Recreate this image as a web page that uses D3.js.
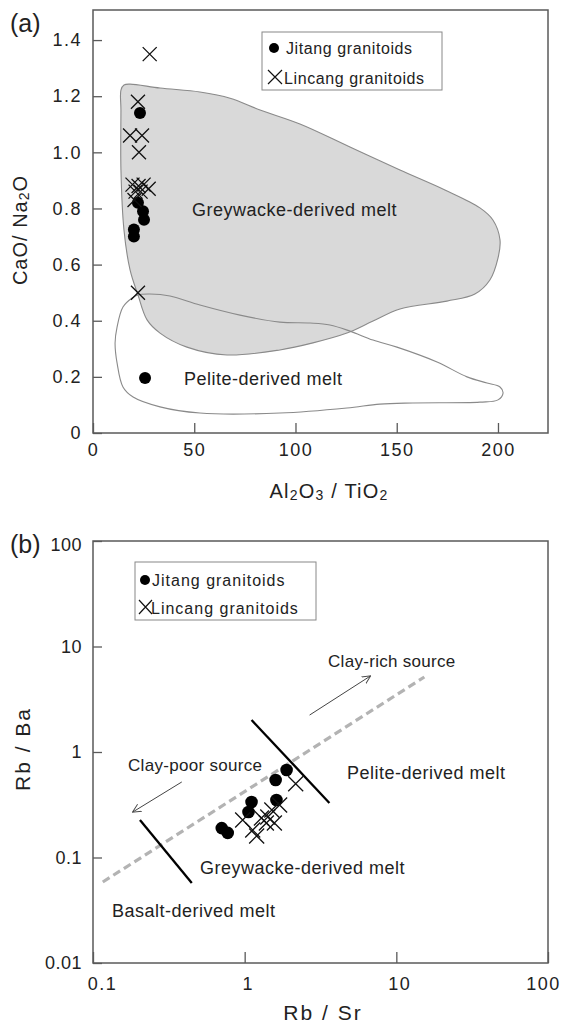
<!DOCTYPE html>
<html><head><meta charset="utf-8">
<script src="https://cdn.jsdelivr.net/npm/d3@7"></script>
<style>
html,body{margin:0;padding:0;background:#fff;}
svg{display:block;font-family:"Liberation Sans",Arial,sans-serif;}
</style></head><body>
<script>
// ---------- Panel (a) data ----------
const jitangA = [[23.2,1.14],[22.2,0.82],[24.7,0.79],[25.2,0.76],[20.2,0.725],[20.2,0.70],[25.7,0.196]];
const lincangA = [[28,1.35],[22.2,1.18],[18.3,1.06],[24.2,1.06],[22.7,1.0],[19.5,0.885],[22.5,0.88],[25,0.885],[27.5,0.87],[21,0.86],[23.5,0.86],[20.5,0.83],[22.2,0.5]];
const greywackeA = [[13.8,1.222],[15.3,1.240],[18.3,1.243],[33.1,1.229],[52.8,1.215],[67.7,1.193],[82.5,1.151],[102.2,1.101],[126.9,1.019],[151.6,0.937],[173.8,0.866],[191.1,0.802],[197.5,0.759],[201,0.688],[200,0.623],[196,0.545],[188.6,0.495],[174.8,0.470],[151.6,0.442],[138.3,0.399],[125.4,0.356],[108.6,0.321],[92.3,0.296],[66.2,0.278],[46.4,0.306],[33.1,0.356],[26.7,0.403],[22.2,0.492],[18.3,0.581],[15.3,0.723],[13.8,0.937],[13.8,1.151]];
const peliteA = [[22.2,0.492],[28.1,0.495],[38.0,0.488],[52.8,0.456],[72.6,0.420],[92.3,0.395],[107.2,0.392],[117.0,0.385],[126.9,0.363],[138.3,0.331],[150.1,0.306],[169.9,0.253],[184.7,0.200],[194.6,0.178],[201,0.164],[202.5,0.142],[200,0.118],[191.1,0.110],[158.0,0.107],[141.7,0.103],[125.4,0.089],[92.3,0.071],[52.8,0.071],[33.1,0.093],[19.8,0.128],[14.8,0.164],[11.9,0.249],[10.9,0.321],[11.9,0.378],[14.8,0.449],[19.3,0.481]];
const xTicksA = [0,50,100,150,200];
const xTickLabelsA = ["0","50","100","150","200"];
const yTicksA = [0,0.2,0.4,0.6,0.8,1.0,1.2,1.4];
const yTickLabelsA = ["0","0.2","0.4","0.6","0.8","1.0","1.2","1.4"];

// ---------- Panel (b) data ----------
const jitangB = [[1.89,0.675],[1.60,0.543],[1.62,0.351],[1.11,0.336],[1.06,0.27],[0.706,0.19],[0.773,0.171]];
const lincangB = [[2.17,0.5],[1.70,0.315],[0.97,0.227],[1.13,0.182],[1.29,0.237],[1.42,0.242],[1.57,0.212],[1.51,0.282],[1.20,0.16],[1.39,0.212]];
const clayLineB = [[0.116,0.0586],[15.3,5.14]];
const pelitePartB = [[1.11,2.01],[3.62,0.329]];
const basaltPartB = [[0.204,0.227],[0.448,0.0573]];
const arrowRichB = [[2.68,2.24],[6.74,5.25]];
const arrowPoorB = [[0.385,0.52],[0.183,0.27]];
const xTicksB = [0.1,1,10,100];
const xTickLabelsB = ["0.1","1","10","100"];
const yTicksB = [0.01,0.1,1,10,100];
const yTickLabelsB = ["0.01","0.1","1","10","100"];

const W = 563, H = 1027;
const ink = "#222", frameC = "#5a5a5a";
const svg = d3.select("body").append("svg").attr("width",W).attr("height",H);

const defs = svg.append("defs");
defs.append("marker").attr("id","arr").attr("viewBox","0 0 10 10").attr("refX",9).attr("refY",5)
  .attr("markerWidth",9).attr("markerHeight",9).attr("markerUnits","userSpaceOnUse").attr("orient","auto")
  .append("path").attr("d","M0,0.5 L9.5,5 L0,9.5").attr("fill","none").attr("stroke","#444").attr("stroke-width",1);

function styleAxis(g, fs, ls){
  g.select(".domain").remove();
  g.selectAll(".tick line").attr("stroke",frameC).attr("stroke-width",1.3);
  g.selectAll(".tick text").attr("fill",ink).attr("font-size",fs).attr("letter-spacing",ls)
    .attr("font-family","Liberation Sans, Arial, sans-serif");
}
function crosses(g, data, x, y, s){
  g.selectAll(null).data(data).enter().append("path")
    .attr("d", d => { const cx=x(d[0]), cy=y(d[1]); return `M${cx-s},${cy-s}L${cx+s},${cy+s}M${cx-s},${cy+s}L${cx+s},${cy-s}`; })
    .attr("stroke","#111").attr("stroke-width",1.3).attr("fill","none");
}
function dots(g, data, x, y, r){
  g.selectAll(null).data(data).enter().append("circle")
    .attr("cx",d=>x(d[0])).attr("cy",d=>y(d[1])).attr("r",r).attr("fill","#000");
}
function txt(x,y,s,fs,ls,anchor){
  return svg.append("text").attr("x",x).attr("y",y).text(s).attr("font-size",fs)
    .attr("letter-spacing",ls||0).attr("fill",ink).attr("text-anchor",anchor||"start");
}

// =============== Panel (a) ===============
const xA = d3.scaleLinear().domain([0,225]).range([93,548.6]);
const yA = d3.scaleLinear().domain([0,1.5]).range([433,12]);
const gA = svg.append("g");
const lineA = d3.line().x(d=>xA(d[0])).y(d=>yA(d[1])).curve(d3.curveCatmullRomClosed.alpha(0.5));
gA.append("path").attr("d",lineA(greywackeA)).attr("fill","#d9d9d9").attr("stroke","#8a8a8a").attr("stroke-width",1.1);
gA.append("path").attr("d",lineA(peliteA)).attr("fill","none").attr("stroke","#8a8a8a").attr("stroke-width",1.1);
gA.append("rect").attr("x",93).attr("y",10).attr("width",455).attr("height",423).attr("fill","none").attr("stroke",frameC).attr("stroke-width",1.5);
const axA_x = gA.append("g").attr("transform","translate(0,433)")
  .call(d3.axisBottom(xA).tickValues(xTicksA).tickFormat((d,i)=>xTickLabelsA[i]).tickSizeInner(-10).tickSizeOuter(0).tickPadding(10));
styleAxis(axA_x,18,1.5);
const axA_y = gA.append("g").attr("transform","translate(93,0)")
  .call(d3.axisLeft(yA).tickValues(yTicksA).tickFormat((d,i)=>yTickLabelsA[i]).tickSizeInner(-9).tickSizeOuter(0).tickPadding(11));
styleAxis(axA_y,18,1.5);

txt(192,216,"Greywacke-derived melt",18,0.5);
txt(184,385,"Pelite-derived melt",18,0.5);
dots(gA,jitangA,xA,yA,6);
crosses(gA,lincangA,xA,yA,7);

// legend (a)
svg.append("rect").attr("x",262).attr("y",32).attr("width",180).attr("height",58).attr("fill","#fff").attr("stroke","#888").attr("stroke-width",1);
svg.append("circle").attr("cx",274).attr("cy",48).attr("r",5).attr("fill","#000");
svg.append("path").attr("d","M268,70L282,84M268,84L282,70").attr("stroke","#111").attr("stroke-width",1.2);
txt(286,53.5,"Jitang granitoids",16,0.6);
txt(284,83.5,"Lincang granitoids",16,0.6);

txt(10,32,"(a)",25,0);
// axis titles (a)
const tA = svg.append("text").attr("x",329).attr("y",498).attr("text-anchor","middle").attr("font-size",20).attr("letter-spacing",1.2).attr("fill",ink);
tA.append("tspan").text("Al");
tA.append("tspan").text("2").attr("font-size",14).attr("dy",2);
tA.append("tspan").text("O").attr("dy",-2);
tA.append("tspan").text("3").attr("font-size",14).attr("dy",2);
tA.append("tspan").text(" / TiO").attr("dy",-2);
tA.append("tspan").text("2").attr("font-size",14).attr("dy",2);
const tAy = svg.append("text").attr("transform","translate(27,230) rotate(-90)").attr("text-anchor","middle").attr("font-size",20).attr("letter-spacing",1).attr("fill",ink);
tAy.append("tspan").text("CaO/ Na");
tAy.append("tspan").text("2").attr("font-size",14).attr("dy",2);
tAy.append("tspan").text("O").attr("dy",-2);

// =============== Panel (b) ===============
const xB = d3.scaleLog().domain([0.1,100]).range([93,548]);
const yB = d3.scaleLog().domain([0.01,100]).range([963,541]);
const gB = svg.append("g");
gB.append("rect").attr("x",93).attr("y",541).attr("width",455).attr("height",422).attr("fill","none").attr("stroke",frameC).attr("stroke-width",1.5);
const axB_x = gB.append("g").attr("transform","translate(0,963)")
  .call(d3.axisBottom(xB).tickValues(xTicksB).tickFormat((d,i)=>xTickLabelsB[i]).tickSizeInner(-11).tickSizeOuter(0).tickPadding(14));
styleAxis(axB_x,18,1.5);
axB_x.selectAll(".tick text").attr("dx",(d,i)=> i===0 ? 9 : (i===3 ? -5 : 3));
const axB_y = gB.append("g").attr("transform","translate(93,0)")
  .call(d3.axisLeft(yB).tickValues(yTicksB).tickFormat((d,i)=>yTickLabelsB[i]).tickSizeInner(-9).tickSizeOuter(0).tickPadding(11));
styleAxis(axB_y,18,0.5);
axB_y.selectAll(".tick text").attr("dy",(d,i)=> i===4 ? "0.55em" : "0.32em");

const lineB = d3.line().x(d=>xB(d[0])).y(d=>yB(d[1]));
gB.append("path").attr("d",lineB(clayLineB)).attr("stroke","#b3b3b3").attr("stroke-width",3.2).attr("stroke-dasharray","8,4.5").attr("fill","none");
gB.append("path").attr("d",lineB(pelitePartB)).attr("stroke","#000").attr("stroke-width",2.3).attr("fill","none");
gB.append("path").attr("d",lineB(basaltPartB)).attr("stroke","#000").attr("stroke-width",2.3).attr("fill","none");
gB.append("path").attr("d",lineB(arrowRichB)).attr("stroke","#444").attr("stroke-width",1).attr("fill","none").attr("marker-end","url(#arr)");
gB.append("path").attr("d",lineB(arrowPoorB)).attr("stroke","#444").attr("stroke-width",1).attr("fill","none").attr("marker-end","url(#arr)");

dots(gB,jitangB,xB,yB,6.3);
crosses(gB,lincangB,xB,yB,7.5);

txt(328,667,"Clay-rich source",17,0.3);
txt(128,771,"Clay-poor source",17,0.3);
txt(347,779,"Pelite-derived melt",18,0.5);
txt(200,874,"Greywacke-derived melt",18,0.5);
txt(112,917,"Basalt-derived melt",18,0.5);

// legend (b)
svg.append("rect").attr("x",135).attr("y",562).attr("width",181).attr("height",58).attr("fill","#fff").attr("stroke","#888").attr("stroke-width",1);
svg.append("circle").attr("cx",145).attr("cy",580).attr("r",5).attr("fill","#000");
svg.append("path").attr("d","M139,600L152,614M139,614L152,600").attr("stroke","#111").attr("stroke-width",1.2);
txt(152,585.5,"Jitang granitoids",16,1);
txt(151,613.5,"Lincang granitoids",16,1);

txt(10,553,"(b)",25,0);
txt(323,1020,"Rb / Sr",21,2,"middle");
svg.append("text").attr("transform","translate(30,749) rotate(-90)").attr("text-anchor","middle").attr("font-size",21).attr("letter-spacing",2).attr("fill",ink).text("Rb / Ba");
</script>
</body></html>
